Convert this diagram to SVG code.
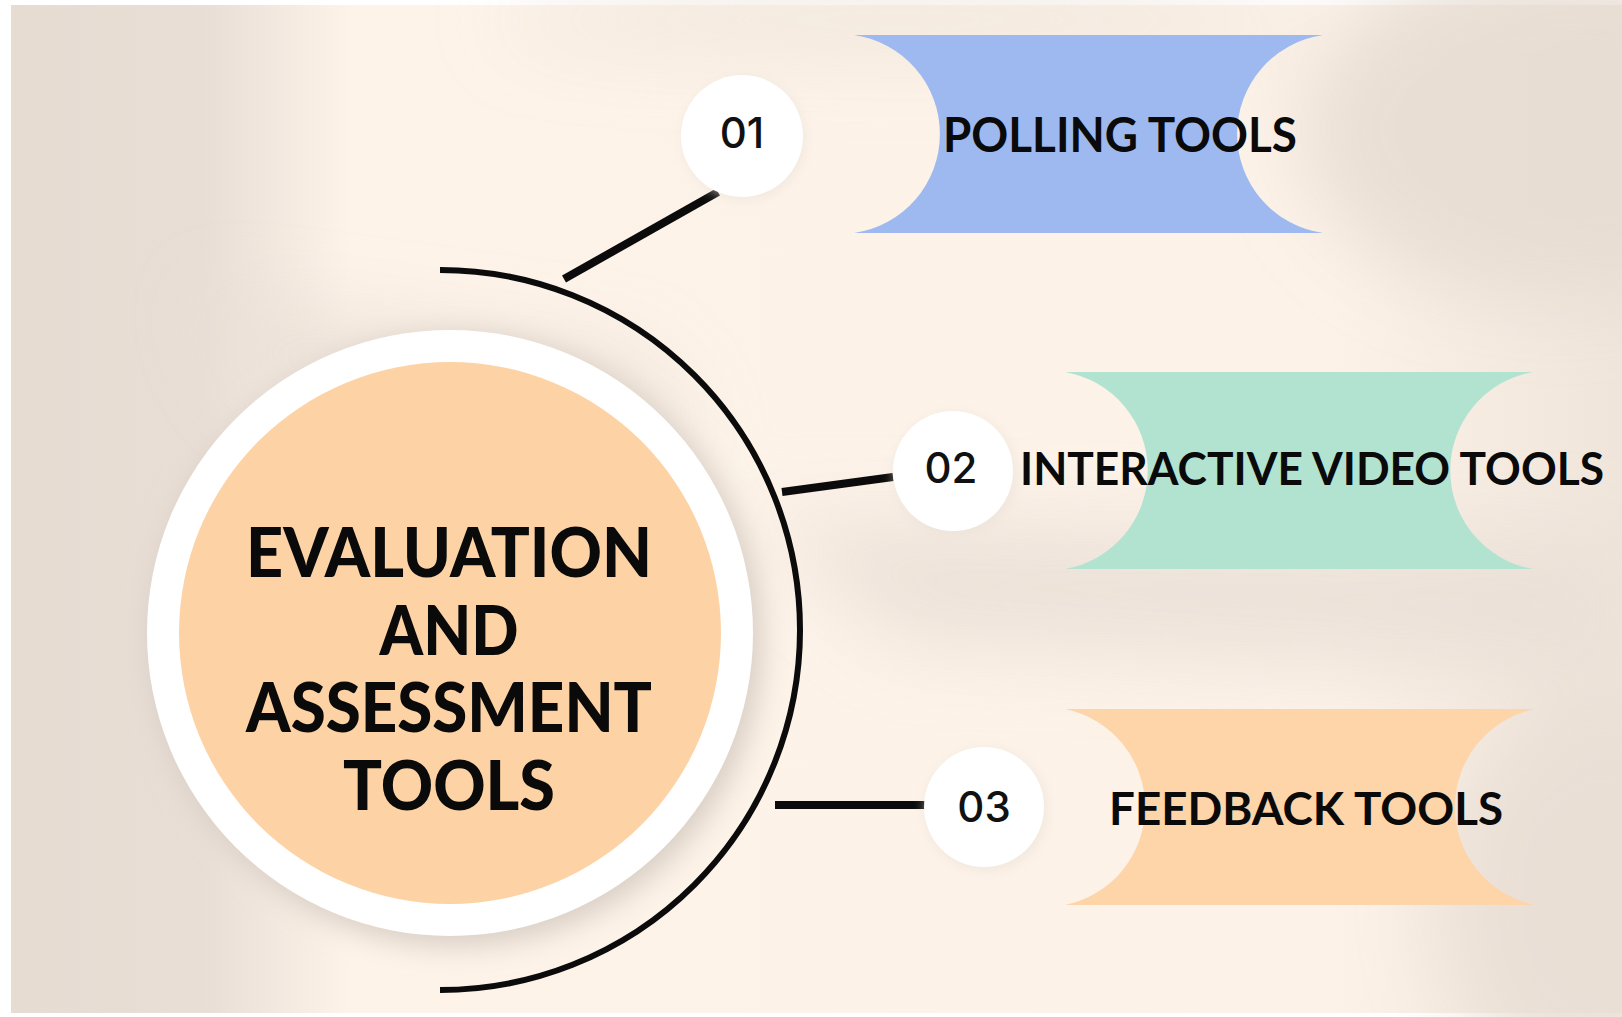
<svg xmlns="http://www.w3.org/2000/svg" width="1622" height="1017" viewBox="0 0 1622 1017">
  <defs>
    <linearGradient id="bgGrad" x1="0" y1="0" x2="1" y2="0">
      <stop offset="0" stop-color="#E6DCD2"/>
      <stop offset="0.12" stop-color="#E8DED5"/>
      <stop offset="0.21" stop-color="#FDF3E9"/>
      <stop offset="0.82" stop-color="#FCF2E8"/>
      <stop offset="1" stop-color="#EFE5DB"/>
    </linearGradient>
    <filter id="soft" x="-50%" y="-50%" width="200%" height="200%">
      <feGaussianBlur stdDeviation="40"/>
    </filter>
    <filter id="shadow" x="-30%" y="-30%" width="160%" height="160%">
      <feGaussianBlur stdDeviation="14"/>
    </filter>
    <filter id="smallShadow" x="-50%" y="-50%" width="200%" height="200%">
      <feGaussianBlur stdDeviation="6"/>
    </filter>
    <style>
      .conn { stroke: #0B0B0B; stroke-width: 8; fill: none; stroke-linecap: butt; }
      .arc { stroke: #0B0B0B; stroke-width: 6; fill: none; }
      .num-bg { fill: #FFFFFF; }
      .num { font-family: Inter, "Liberation Sans", sans-serif; font-weight: 500; font-size: 42px; fill: #111111; text-anchor: middle; }
      .label { font-family: Lato, "Liberation Sans", sans-serif; font-weight: 700; fill: #0A0A0A; }
      .title { font-family: Lato, "Liberation Sans", sans-serif; font-weight: 900; font-size: 68px; fill: #0A0A0A; text-anchor: middle; }
    </style>
  </defs>

  <!-- background -->
  <rect x="0" y="0" width="1622" height="1017" fill="#FFFFFF"/>
  <rect x="11" y="5" width="1611" height="1008" fill="url(#bgGrad)"/>
  <g filter="url(#soft)" opacity="0.85">
    <ellipse cx="1560" cy="130" rx="260" ry="170" fill="#E6DCD2"/>
    <polygon points="760,520 1622,540 1622,680 900,640" fill="#E9DFD6"/>
    <polygon points="200,300 640,360 700,450 260,400" fill="#E9DFD6"/>
    <ellipse cx="1600" cy="900" rx="160" ry="200" fill="#E8DED4"/>
    <ellipse cx="900" cy="20" rx="400" ry="30" fill="#EDE3D9"/>
  </g>

  <!-- center node -->
  <g id="center">
    <circle cx="456" cy="640" r="306" fill="#D8CEC4" filter="url(#shadow)"/>
    <circle cx="450" cy="633" r="303" fill="#FFFFFF"/>
    <circle cx="450" cy="633" r="271" fill="#FDD3A6"/>
    <text class="title" x="449" y="577" textLength="406" lengthAdjust="spacingAndGlyphs">EVALUATION</text>
    <text class="title" x="449" y="655" textLength="139" lengthAdjust="spacingAndGlyphs">AND</text>
    <text class="title" x="449" y="732" textLength="406" lengthAdjust="spacingAndGlyphs">ASSESSMENT</text>
    <text class="title" x="449" y="810" textLength="212" lengthAdjust="spacingAndGlyphs">TOOLS</text>
  </g>

  <!-- connectors -->
  <g id="connectors">
    <path class="arc" d="M 440 270 A 360 360 0 0 1 440 990"/>
    <line class="conn" x1="564" y1="279" x2="718" y2="192"/>
    <line class="conn" x1="782" y1="492" x2="893" y2="477"/>
    <line class="conn" x1="775" y1="805" x2="925" y2="805"/>
  </g>

  <!-- item 1 -->
  <g id="item1">
    <path d="M 854 35 L 1323 35 A 100 100 0 0 0 1323 233 L 854 233 A 100 100 0 0 0 854 35 Z" fill="#9DB9F0"/>
    <circle cx="744" cy="139" r="61" fill="#E9E0D7" filter="url(#smallShadow)" opacity="0.6"/>
    <circle class="num-bg" cx="742" cy="136" r="61"/>
    <text class="num" x="742" y="148">01</text>
    <text class="label" x="943" y="152" font-size="48" textLength="354" lengthAdjust="spacingAndGlyphs">POLLING TOOLS</text>
  </g>

  <!-- item 2 -->
  <g id="item2">
    <path d="M 1065 372 L 1533 372 A 100 100 0 0 0 1533 569 L 1065 569 A 100 100 0 0 0 1065 372 Z" fill="#B2E3D1"/>
    <circle cx="955" cy="474" r="61" fill="#E9E0D7" filter="url(#smallShadow)" opacity="0.6"/>
    <circle class="num-bg" cx="953" cy="471" r="60"/>
    <text class="num" x="951" y="483">02</text>
    <text class="label" x="1020" y="485" font-size="45" textLength="584" lengthAdjust="spacingAndGlyphs">INTERACTIVE VIDEO TOOLS</text>
  </g>

  <!-- item 3 -->
  <g id="item3">
    <path d="M 1065 709 L 1535 709 A 100 100 0 0 0 1535 905 L 1065 905 A 100 100 0 0 0 1065 709 Z" fill="#FDD5A9"/>
    <circle cx="986" cy="810" r="61" fill="#E9E0D7" filter="url(#smallShadow)" opacity="0.6"/>
    <circle class="num-bg" cx="984" cy="807" r="60"/>
    <text class="num" x="984" y="822">03</text>
    <text class="label" x="1109" y="825" font-size="46" textLength="394" lengthAdjust="spacingAndGlyphs">FEEDBACK TOOLS</text>
  </g>
</svg>
